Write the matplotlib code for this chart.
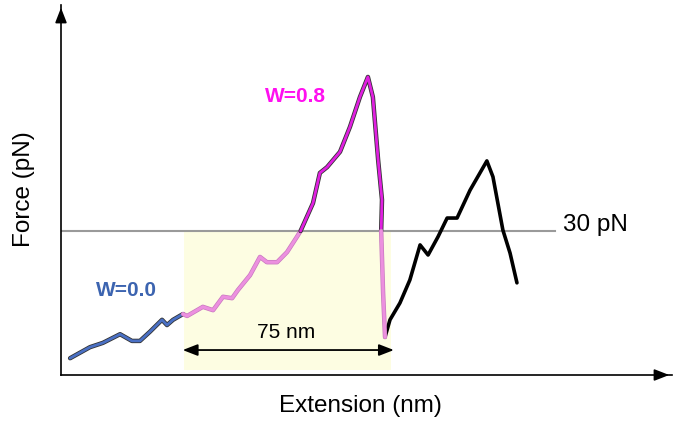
import matplotlib
matplotlib.use("Agg")
import matplotlib.pyplot as plt
import matplotlib.patheffects as pe

plt.rcParams["font.family"] = ["Liberation Sans", "DejaVu Sans"]

# Force-extension trace (extension in nm, force in pN)
blue_x = [3.3, 10.5, 15.2, 21.4, 25.7, 28.6, 32.2, 36.6, 38.4, 40.6, 44.2]
blue_y = [3.5, 5.8, 6.7, 8.5, 7.1, 7.1, 9.0, 11.5, 10.4, 11.5, 12.7]

low_x = [44.2, 45.7, 51.4, 55.1, 58.7, 62.0, 64.1, 68.5, 72.1, 74.6, 78.3, 81.9, 85.5, 86.8]
low_y = [12.7, 12.3, 14.2, 13.5, 16.3, 16.0, 17.7, 20.8, 24.6, 23.5, 23.5, 25.6, 28.8, 30.0]

high_x = [86.8, 91.3, 93.8, 96.4, 101.1, 104.7, 108.3, 111.2, 113.0, 114.9, 116.3, 116.0]
high_y = [30.0, 35.8, 42.1, 43.3, 46.5, 51.7, 57.9, 62.1, 57.9, 44.8, 36.5, 30.0]

drop_x = [116.0, 116.7, 117.4]
drop_y = [30.0, 17.1, 7.9]

black_x = [117.4, 119.2, 122.8, 126.4, 130.1, 133.0, 136.6, 139.9, 143.5, 148.2, 154.3, 156.5, 160.1, 162.7, 165.2]
black_y = [7.9, 11.5, 15.0, 19.8, 27.1, 25.0, 28.8, 32.7, 32.7, 38.5, 44.6, 41.3, 30.2, 25.4, 19.2]

threshold = 30.0
threshold_end = 179.0
span_start = 44.6
span_length = 75.0

fig = plt.figure(figsize=(6.75, 4.23), dpi=100)
ax = fig.add_axes([61 / 675, 48 / 423, 611 / 675, 370 / 423])
ax.set_xlim(0, 611 / 2.76)
ax.set_ylim(0, 370 / 4.8)
ax.set_xticks([])
ax.set_yticks([])
for s in ["top", "right"]:
    ax.spines[s].set_visible(False)
for s in ["left", "bottom"]:
    ax.spines[s].set_linewidth(1.2)

# axis arrowheads
ax.annotate("", xy=(0, 1.0), xytext=(0, 0.96), xycoords="axes fraction",
            arrowprops=dict(arrowstyle="-|>,head_length=0.9,head_width=0.35",
                            color="black", lw=1.2), annotation_clip=False)
ax.annotate("", xy=(1.0, 0), xytext=(0.97, 0), xycoords="axes fraction",
            arrowprops=dict(arrowstyle="-|>,head_length=0.9,head_width=0.35",
                            color="black", lw=1.2), annotation_clip=False)

# shaded region below threshold
ax.fill_between([span_start, span_start + span_length], 1.0, threshold,
                color="#fdfde2", zorder=0, lw=0)

ax.plot([0, threshold_end], [threshold, threshold], color="#9a9a9a", lw=1.5, zorder=1)

edge = [pe.Stroke(linewidth=3.2, foreground="#333333"), pe.Normal()]
soft = [pe.Stroke(linewidth=3.2, foreground="#c878bf"), pe.Normal()]
ax.plot(blue_x, blue_y, color="#4a70c4", lw=2.0, path_effects=edge, zorder=3,
        solid_capstyle="round")
ax.plot(low_x, low_y, color="#ec90df", lw=2.2, zorder=3, solid_capstyle="round",
        path_effects=soft)
ax.plot(high_x, high_y, color="#e020e0", lw=2.0, path_effects=edge, zorder=3,
        solid_capstyle="round")
ax.plot(drop_x, drop_y, color="#ec90df", lw=2.2, zorder=3, solid_capstyle="round",
        path_effects=soft)
ax.plot(black_x, black_y, color="black", lw=2.6, zorder=2, solid_capstyle="round")

# span arrow
ax.annotate("", xy=(span_start + span_length + 1, 5.2), xytext=(span_start - 0.5, 5.2),
            arrowprops=dict(arrowstyle="<|-|>,head_length=0.9,head_width=0.35",
                            color="black", lw=1.3, shrinkA=0, shrinkB=0))
ax.text(span_start + span_length / 2 - 0.5, 8.8, f"{span_length:.0f} nm", ha="center",
        va="center", fontsize=15)

ax.text(181.9, threshold + 1.3, f"{threshold:.0f} pN", ha="left", va="center",
        fontsize=17.5)
ax.text(23.6, 17.7, "W=0.0", color="#3c64b0", fontsize=15, fontweight="bold",
        ha="center", va="center")
ax.text(85.1, 58.1, "W=0.8", color="#ff10f0", fontsize=15, fontweight="bold",
        ha="center", va="center")

fig.text(24 / 675, 1 - 189 / 423, "Force (pN)", rotation=90, ha="center",
         va="center", fontsize=17.5)
fig.text(360 / 675, 1 - 406 / 423, "Extension (nm)", ha="center", va="center",
         fontsize=17.5)

fig.savefig("out.png", dpi=100)
